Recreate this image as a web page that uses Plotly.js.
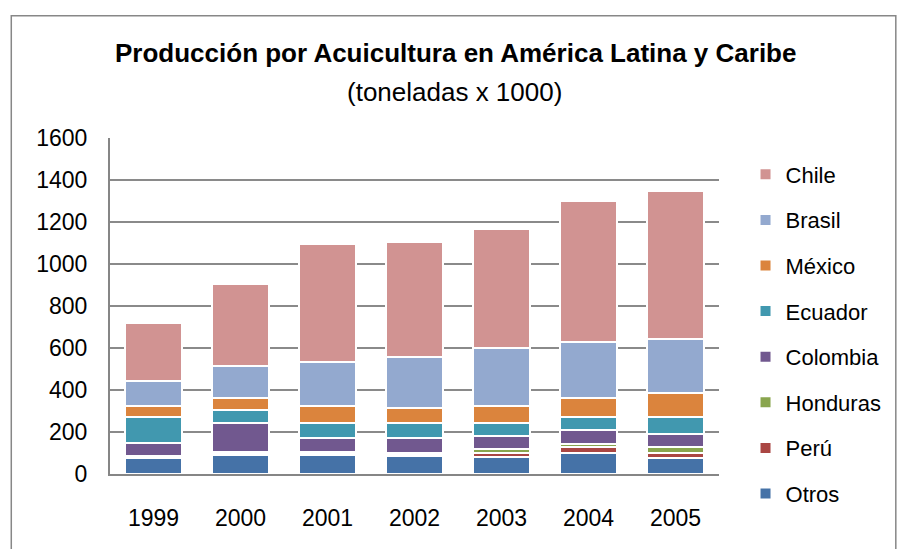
<!DOCTYPE html>
<html>
<head>
<meta charset="utf-8">
<script src="https://cdn.plot.ly/plotly-3.0.1.min.js"></script>
<style>
html,body{margin:0;padding:0;background:#fff;}
#chart{width:899px;height:549px;}
</style>
</head>
<body>
<div id="chart"></div>
<script>
// Data (toneladas x 1000)
const years    = ['1999','2000','2001','2002','2003','2004','2005'];
const otros    = [74, 90, 92, 84, 83, 102, 75];
const peru     = [5, 7, 7, 7, 19, 26, 26];
const honduras = [5, 7, 7, 7, 17, 17, 29];
const colombia = [62, 140, 67, 75, 62, 63, 61];
const ecuador  = [126, 62, 72, 72, 64, 63, 80];
const mexico   = [52, 56, 79, 70, 79, 89, 115];
const brasil   = [120, 151, 207, 242, 276, 268, 259];
const chile    = [275, 394, 565, 550, 565, 673, 701];

const seriesNames  = ['Otros','Perú','Honduras','Colombia','Ecuador','México','Brasil','Chile'];
const seriesValues = [otros, peru, honduras, colombia, ecuador, mexico, brasil, chile];
const seriesColors = ['#4572A7','#AA4643','#89A54E','#71588F','#4198AF','#DB843D','#93A9CF','#D19392'];

const FONT = '"Liberation Sans", Arial, sans-serif';

const traces = seriesNames.map((n, i) => ({
  type: 'bar',
  name: n,
  x: years,
  y: seriesValues[i],
  legendgroup: 'g' + i,
  legendrank: seriesNames.length - i,
  marker: {color: seriesColors[i], line: {color: '#ffffff', width: 2}},
  hoverinfo: 'skip'
}));

const L = 110, R = 730, T = 137.5, B = 474;
const W = R - L, H = B - T;
const px = x => (x - L) / W;
const py = y => (B - y) / H;

const layout = {
  width: 899, height: 549,
  margin: {l: L, r: 899 - R, t: T, b: 549 - B, pad: 0},
  paper_bgcolor: '#ffffff',
  plot_bgcolor: '#ffffff',
  barmode: 'stack',
  bargap: 0.345,
  font: {family: FONT, color: '#000000', size: 22},
  showlegend: true,
  legend: {
    x: px(757), xanchor: 'left',
    y: py(153), yanchor: 'top',
    traceorder: 'grouped',
    tracegroupgap: 14,
    maxheight: 430,
    font: {family: FONT, size: 22, color: '#000'},
    bgcolor: 'rgba(0,0,0,0)'
  },
  xaxis: {
    type: 'category',
    showgrid: false,
    showline: true, linecolor: '#868686', linewidth: 2,
    ticks: '',
    ticklabelstandoff: 22,
    tickfont: {family: FONT, size: 23, color: '#000'},
    fixedrange: true
  },
  yaxis: {
    range: [0, 1600],
    dtick: 200,
    showgrid: true, gridcolor: '#8a8a8a', gridwidth: 1.6,
    zeroline: false,
    showline: true, linecolor: '#868686', linewidth: 2,
    ticks: '',
    ticklabelstandoff: 16,
    tickfont: {family: FONT, size: 23, color: '#000'},
    fixedrange: true
  },
  annotations: [
    {xref: 'paper', yref: 'paper', x: px(462), y: py(52), xanchor: 'center', yanchor: 'middle',
     text: '<b>Producción por Acuicultura en América Latina y Caribe</b>', showarrow: false,
     font: {family: FONT, size: 26, color: '#000'}},
    {xref: 'paper', yref: 'paper', x: px(461), y: py(91), xanchor: 'center', yanchor: 'middle',
     text: '(toneladas x 1000)', showarrow: false,
     font: {family: FONT, size: 26, color: '#000'}}
  ],
  shapes: [
    {type: 'rect', xref: 'paper', yref: 'paper', layer: 'below',
     x0: px(9.5), x1: px(910), y0: py(15), y1: py(570),
     line: {color: '#878787', width: 1.5}, fillcolor: 'rgba(0,0,0,0)'}
  ]
};

Plotly.newPlot('chart', traces, layout, {staticPlot: true, displayModeBar: false});
</script>
</body>
</html>
